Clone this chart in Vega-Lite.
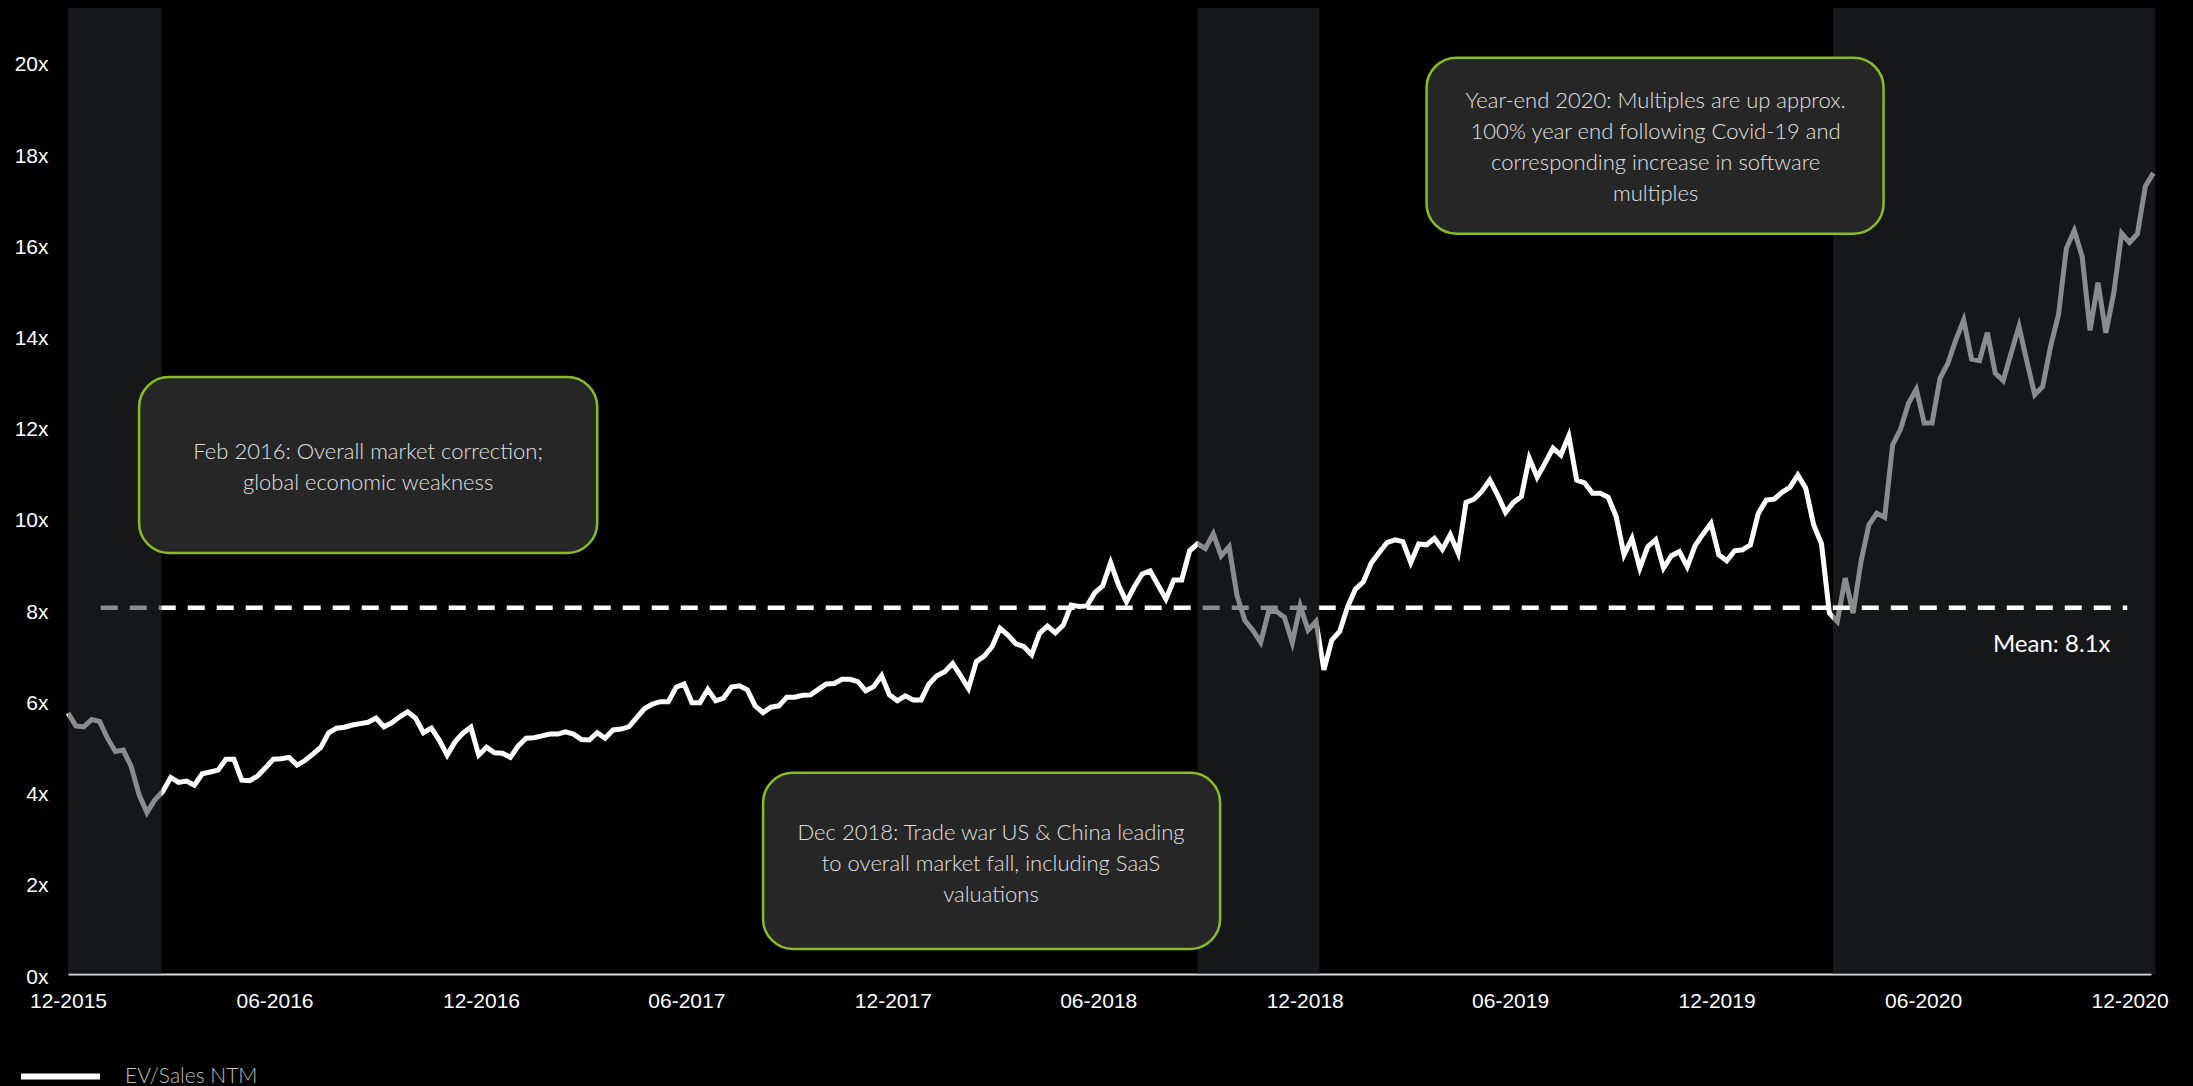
{
  "$schema": "https://vega.github.io/schema/vega-lite/v6.json",
  "width": 2083,
  "height": 966,
  "autosize": {"type": "none"},
  "padding": {"left": 68, "top": 8, "right": 42, "bottom": 112},
  "background": "#000000",
  "config": {"view": {"stroke": null}, "font": "Liberation Sans"},
  "datasets": {
    "ev": [
      {"date": "2015-12-01", "value": 5.72}, {"date": "2015-12-08", "value": 5.44}, {"date": "2015-12-15", "value": 5.42}, {"date": "2015-12-22", "value": 5.58}, {"date": "2015-12-29", "value": 5.54},
      {"date": "2016-01-05", "value": 5.17}, {"date": "2016-01-12", "value": 4.88}, {"date": "2016-01-19", "value": 4.91}, {"date": "2016-01-26", "value": 4.55},
      {"date": "2016-02-02", "value": 3.93}, {"date": "2016-02-09", "value": 3.54}, {"date": "2016-02-16", "value": 3.82}, {"date": "2016-02-23", "value": 4.00},
      {"date": "2016-03-01", "value": 4.31}, {"date": "2016-03-08", "value": 4.20}, {"date": "2016-03-15", "value": 4.23}, {"date": "2016-03-22", "value": 4.14}, {"date": "2016-03-29", "value": 4.39},
      {"date": "2016-04-05", "value": 4.43}, {"date": "2016-04-12", "value": 4.47}, {"date": "2016-04-19", "value": 4.71}, {"date": "2016-04-26", "value": 4.71},
      {"date": "2016-05-03", "value": 4.25}, {"date": "2016-05-10", "value": 4.24}, {"date": "2016-05-17", "value": 4.34}, {"date": "2016-05-24", "value": 4.52}, {"date": "2016-05-31", "value": 4.71},
      {"date": "2016-06-07", "value": 4.72}, {"date": "2016-06-14", "value": 4.75}, {"date": "2016-06-21", "value": 4.58}, {"date": "2016-06-28", "value": 4.68},
      {"date": "2016-07-05", "value": 4.82}, {"date": "2016-07-12", "value": 4.97}, {"date": "2016-07-19", "value": 5.29}, {"date": "2016-07-26", "value": 5.39},
      {"date": "2016-08-02", "value": 5.41}, {"date": "2016-08-09", "value": 5.46}, {"date": "2016-08-16", "value": 5.49}, {"date": "2016-08-23", "value": 5.52}, {"date": "2016-08-30", "value": 5.61},
      {"date": "2016-09-06", "value": 5.42}, {"date": "2016-09-13", "value": 5.51}, {"date": "2016-09-20", "value": 5.64}, {"date": "2016-09-27", "value": 5.75},
      {"date": "2016-10-04", "value": 5.61}, {"date": "2016-10-11", "value": 5.29}, {"date": "2016-10-18", "value": 5.39}, {"date": "2016-10-25", "value": 5.13},
      {"date": "2016-11-01", "value": 4.80}, {"date": "2016-11-08", "value": 5.09}, {"date": "2016-11-15", "value": 5.28}, {"date": "2016-11-22", "value": 5.41}, {"date": "2016-11-29", "value": 4.80},
      {"date": "2016-12-06", "value": 4.97}, {"date": "2016-12-13", "value": 4.85}, {"date": "2016-12-20", "value": 4.84}, {"date": "2016-12-27", "value": 4.75},
      {"date": "2017-01-03", "value": 5.00}, {"date": "2017-01-10", "value": 5.17}, {"date": "2017-01-17", "value": 5.18}, {"date": "2017-01-24", "value": 5.22}, {"date": "2017-01-31", "value": 5.26},
      {"date": "2017-02-07", "value": 5.26}, {"date": "2017-02-14", "value": 5.31}, {"date": "2017-02-21", "value": 5.26}, {"date": "2017-02-28", "value": 5.14},
      {"date": "2017-03-07", "value": 5.13}, {"date": "2017-03-14", "value": 5.29}, {"date": "2017-03-21", "value": 5.17}, {"date": "2017-03-28", "value": 5.35},
      {"date": "2017-04-04", "value": 5.37}, {"date": "2017-04-11", "value": 5.42}, {"date": "2017-04-18", "value": 5.62}, {"date": "2017-04-25", "value": 5.82},
      {"date": "2017-05-02", "value": 5.92}, {"date": "2017-05-09", "value": 5.97}, {"date": "2017-05-16", "value": 5.97}, {"date": "2017-05-23", "value": 6.29}, {"date": "2017-05-30", "value": 6.36},
      {"date": "2017-06-06", "value": 5.95}, {"date": "2017-06-13", "value": 5.95}, {"date": "2017-06-20", "value": 6.24}, {"date": "2017-06-27", "value": 5.99},
      {"date": "2017-07-04", "value": 6.05}, {"date": "2017-07-11", "value": 6.29}, {"date": "2017-07-18", "value": 6.32}, {"date": "2017-07-25", "value": 6.23},
      {"date": "2017-08-01", "value": 5.88}, {"date": "2017-08-08", "value": 5.73}, {"date": "2017-08-15", "value": 5.85}, {"date": "2017-08-22", "value": 5.88}, {"date": "2017-08-29", "value": 6.07},
      {"date": "2017-09-05", "value": 6.07}, {"date": "2017-09-12", "value": 6.11}, {"date": "2017-09-19", "value": 6.12}, {"date": "2017-09-26", "value": 6.24},
      {"date": "2017-10-03", "value": 6.36}, {"date": "2017-10-10", "value": 6.37}, {"date": "2017-10-17", "value": 6.46}, {"date": "2017-10-24", "value": 6.46}, {"date": "2017-10-31", "value": 6.41},
      {"date": "2017-11-07", "value": 6.21}, {"date": "2017-11-14", "value": 6.30}, {"date": "2017-11-21", "value": 6.54}, {"date": "2017-11-28", "value": 6.12},
      {"date": "2017-12-05", "value": 5.99}, {"date": "2017-12-12", "value": 6.10}, {"date": "2017-12-19", "value": 6.01}, {"date": "2017-12-26", "value": 6.01},
      {"date": "2018-01-02", "value": 6.36}, {"date": "2018-01-09", "value": 6.54}, {"date": "2018-01-16", "value": 6.63}, {"date": "2018-01-23", "value": 6.81}, {"date": "2018-01-30", "value": 6.54},
      {"date": "2018-02-06", "value": 6.26}, {"date": "2018-02-13", "value": 6.85}, {"date": "2018-02-20", "value": 6.97}, {"date": "2018-02-27", "value": 7.18},
      {"date": "2018-03-06", "value": 7.58}, {"date": "2018-03-13", "value": 7.43}, {"date": "2018-03-20", "value": 7.24}, {"date": "2018-03-27", "value": 7.18},
      {"date": "2018-04-03", "value": 7.00}, {"date": "2018-04-10", "value": 7.47}, {"date": "2018-04-17", "value": 7.63}, {"date": "2018-04-24", "value": 7.48},
      {"date": "2018-05-01", "value": 7.65}, {"date": "2018-05-08", "value": 8.09}, {"date": "2018-05-15", "value": 8.06}, {"date": "2018-05-22", "value": 8.07}, {"date": "2018-05-29", "value": 8.36},
      {"date": "2018-06-05", "value": 8.51}, {"date": "2018-06-12", "value": 9.02}, {"date": "2018-06-19", "value": 8.53}, {"date": "2018-06-26", "value": 8.16},
      {"date": "2018-07-03", "value": 8.49}, {"date": "2018-07-10", "value": 8.77}, {"date": "2018-07-17", "value": 8.84}, {"date": "2018-07-24", "value": 8.53}, {"date": "2018-07-31", "value": 8.22},
      {"date": "2018-08-07", "value": 8.64}, {"date": "2018-08-14", "value": 8.64}, {"date": "2018-08-21", "value": 9.28}, {"date": "2018-08-28", "value": 9.43},
      {"date": "2018-09-04", "value": 9.33}, {"date": "2018-09-11", "value": 9.65}, {"date": "2018-09-18", "value": 9.17}, {"date": "2018-09-25", "value": 9.37},
      {"date": "2018-10-02", "value": 8.30}, {"date": "2018-10-09", "value": 7.75}, {"date": "2018-10-16", "value": 7.54}, {"date": "2018-10-23", "value": 7.27}, {"date": "2018-10-30", "value": 7.95},
      {"date": "2018-11-06", "value": 7.95}, {"date": "2018-11-13", "value": 7.82}, {"date": "2018-11-20", "value": 7.27}, {"date": "2018-11-27", "value": 8.07},
      {"date": "2018-12-04", "value": 7.54}, {"date": "2018-12-11", "value": 7.73}, {"date": "2018-12-18", "value": 6.67}, {"date": "2018-12-25", "value": 7.32},
      {"date": "2019-01-01", "value": 7.51}, {"date": "2019-01-08", "value": 8.05}, {"date": "2019-01-15", "value": 8.44}, {"date": "2019-01-22", "value": 8.60}, {"date": "2019-01-29", "value": 9.01},
      {"date": "2019-02-05", "value": 9.24}, {"date": "2019-02-12", "value": 9.46}, {"date": "2019-02-19", "value": 9.52}, {"date": "2019-02-26", "value": 9.48},
      {"date": "2019-03-05", "value": 9.02}, {"date": "2019-03-12", "value": 9.43}, {"date": "2019-03-19", "value": 9.41}, {"date": "2019-03-26", "value": 9.55},
      {"date": "2019-04-02", "value": 9.31}, {"date": "2019-04-09", "value": 9.63}, {"date": "2019-04-16", "value": 9.23}, {"date": "2019-04-23", "value": 10.34}, {"date": "2019-04-30", "value": 10.41},
      {"date": "2019-05-07", "value": 10.58}, {"date": "2019-05-14", "value": 10.83}, {"date": "2019-05-21", "value": 10.50}, {"date": "2019-05-28", "value": 10.12},
      {"date": "2019-06-04", "value": 10.34}, {"date": "2019-06-11", "value": 10.47}, {"date": "2019-06-18", "value": 11.31}, {"date": "2019-06-25", "value": 10.89},
      {"date": "2019-07-02", "value": 11.20}, {"date": "2019-07-09", "value": 11.53}, {"date": "2019-07-16", "value": 11.38}, {"date": "2019-07-23", "value": 11.80}, {"date": "2019-07-30", "value": 10.83},
      {"date": "2019-08-06", "value": 10.77}, {"date": "2019-08-13", "value": 10.54}, {"date": "2019-08-20", "value": 10.54}, {"date": "2019-08-27", "value": 10.45},
      {"date": "2019-09-03", "value": 10.03}, {"date": "2019-09-10", "value": 9.19}, {"date": "2019-09-17", "value": 9.55}, {"date": "2019-09-24", "value": 8.90},
      {"date": "2019-10-01", "value": 9.37}, {"date": "2019-10-08", "value": 9.52}, {"date": "2019-10-15", "value": 8.90}, {"date": "2019-10-22", "value": 9.17}, {"date": "2019-10-29", "value": 9.26},
      {"date": "2019-11-05", "value": 8.93}, {"date": "2019-11-12", "value": 9.39}, {"date": "2019-11-19", "value": 9.65}, {"date": "2019-11-26", "value": 9.88},
      {"date": "2019-12-03", "value": 9.19}, {"date": "2019-12-10", "value": 9.06}, {"date": "2019-12-17", "value": 9.28}, {"date": "2019-12-24", "value": 9.30}, {"date": "2019-12-31", "value": 9.41},
      {"date": "2020-01-07", "value": 10.10}, {"date": "2020-01-14", "value": 10.39}, {"date": "2020-01-21", "value": 10.41}, {"date": "2020-01-28", "value": 10.56},
      {"date": "2020-02-04", "value": 10.67}, {"date": "2020-02-11", "value": 10.94}, {"date": "2020-02-18", "value": 10.65}, {"date": "2020-02-25", "value": 9.85},
      {"date": "2020-03-03", "value": 9.43}, {"date": "2020-03-10", "value": 7.91}, {"date": "2020-03-17", "value": 7.73}, {"date": "2020-03-24", "value": 8.68}, {"date": "2020-03-31", "value": 7.91},
      {"date": "2020-04-07", "value": 9.04}, {"date": "2020-04-14", "value": 9.85}, {"date": "2020-04-21", "value": 10.10}, {"date": "2020-04-28", "value": 10.01},
      {"date": "2020-05-05", "value": 11.60}, {"date": "2020-05-12", "value": 11.94}, {"date": "2020-05-19", "value": 12.51}, {"date": "2020-05-26", "value": 12.82},
      {"date": "2020-06-02", "value": 12.08}, {"date": "2020-06-09", "value": 12.08}, {"date": "2020-06-16", "value": 13.06}, {"date": "2020-06-23", "value": 13.39}, {"date": "2020-06-30", "value": 13.90},
      {"date": "2020-07-07", "value": 14.34}, {"date": "2020-07-14", "value": 13.48}, {"date": "2020-07-21", "value": 13.45}, {"date": "2020-07-28", "value": 14.06},
      {"date": "2020-08-04", "value": 13.17}, {"date": "2020-08-11", "value": 13.01}, {"date": "2020-08-18", "value": 13.61}, {"date": "2020-08-25", "value": 14.20},
      {"date": "2020-09-01", "value": 13.43}, {"date": "2020-09-08", "value": 12.70}, {"date": "2020-09-15", "value": 12.88}, {"date": "2020-09-22", "value": 13.76}, {"date": "2020-09-29", "value": 14.45},
      {"date": "2020-10-06", "value": 15.91}, {"date": "2020-10-13", "value": 16.30}, {"date": "2020-10-20", "value": 15.73}, {"date": "2020-10-27", "value": 14.11},
      {"date": "2020-11-03", "value": 15.16}, {"date": "2020-11-10", "value": 14.06}, {"date": "2020-11-17", "value": 14.93}, {"date": "2020-11-24", "value": 16.24},
      {"date": "2020-12-01", "value": 16.04}, {"date": "2020-12-08", "value": 16.23}, {"date": "2020-12-15", "value": 17.27}, {"date": "2020-12-22", "value": 17.56}
    ],
    "bands": [
      {"start": "2015-12-01", "end": "2016-02-22"},
      {"start": "2018-08-28", "end": "2018-12-14"},
      {"start": "2020-03-13", "end": "2020-12-24"}
    ],
    "notes": [
      {"start": "2016-02-02", "end": "2017-03-14", "high": 13.09, "low": 9.23, "text_date": "2016-08-23", "text_value": 11.45, "text": ["Feb 2016: Overall market correction;", "global economic weakness"]},
      {"start": "2019-03-19", "end": "2020-04-27", "high": 20.09, "low": 16.23, "text_date": "2019-10-08", "text_value": 19.13, "text": ["Year-end 2020: Multiples are up approx.", "100% year end following Covid-19 and", "corresponding increase in software", "multiples"]},
      {"start": "2017-08-08", "end": "2018-09-17", "high": 4.41, "low": 0.55, "text_date": "2018-02-26", "text_value": 3.1, "text": ["Dec 2018: Trade war US & China leading", "to overall market fall, including SaaS", "valuations"]}
    ]
  },
  "layer": [
    {
      "data": {"name": "ev"},
      "mark": {"type": "line", "strokeWidth": 5},
      "encoding": {
        "x": {
          "field": "date", "type": "temporal",
          "scale": {"type": "utc", "domain": [{"year": 2015, "month": 12, "date": 1, "utc": true}, {"year": 2020, "month": 12, "date": 20, "utc": true}]},
          "axis": {
            "title": null, "grid": false, "ticks": false, "labelPadding": 16,
            "labelFontSize": 21, "labelColor": "#ffffff", "labelFont": "Liberation Sans",
            "domainColor": "#d9d9d9", "domainWidth": 2, "format": "%m-%Y",
            "labelFlush": false, "labelOverlap": false,
            "values": [
              {"year": 2015, "month": 12, "date": 1, "utc": true},
              {"year": 2016, "month": 6, "date": 1, "utc": true},
              {"year": 2016, "month": 12, "date": 1, "utc": true},
              {"year": 2017, "month": 6, "date": 1, "utc": true},
              {"year": 2017, "month": 12, "date": 1, "utc": true},
              {"year": 2018, "month": 6, "date": 1, "utc": true},
              {"year": 2018, "month": 12, "date": 1, "utc": true},
              {"year": 2019, "month": 6, "date": 1, "utc": true},
              {"year": 2019, "month": 12, "date": 1, "utc": true},
              {"year": 2020, "month": 6, "date": 1, "utc": true},
              {"year": 2020, "month": 12, "date": 1, "utc": true}
            ]
          }
        },
        "y": {
          "field": "value", "type": "quantitative",
          "scale": {"domain": [0, 21.18], "nice": false, "zero": true},
          "axis": {
            "title": null, "grid": false, "ticks": false, "domain": false,
            "labelPadding": 20, "labelFontSize": 21, "labelColor": "#ffffff", "labelFont": "Liberation Sans",
            "values": [0, 2, 4, 6, 8, 10, 12, 14, 16, 18, 20],
            "labelExpr": "datum.value + 'x'", "labelOffset": 3
          }
        },
        "color": {
          "datum": "EV/Sales NTM",
          "scale": {"range": ["#ffffff"]},
          "legend": {
            "title": null, "orient": "none", "legendX": -50, "legendY": 1026,
            "symbolType": "stroke", "symbolSize": 6241, "symbolStrokeWidth": 6,
            "labelFont": "Lato", "labelFontSize": 21, "labelFontWeight": 300, "labelColor": "#bfbfbf", "labelOffset": 22, "padding": 0
          }
        }
      }
    },
    {
      "data": {"values": [{"start": "2015-12-30", "end": "2020-03-13", "mean": 8.03}]},
      "mark": {"type": "rule", "color": "#ffffff", "strokeWidth": 4.5, "strokeDash": [17, 12]},
      "encoding": {
        "x": {"field": "start", "type": "temporal"},
        "x2": {"field": "end"},
        "y": {"field": "mean", "type": "quantitative"}
      }
    },
    {
      "data": {"name": "bands"},
      "mark": {"type": "rect", "color": "#292b2e", "opacity": 0.54},
      "encoding": {
        "x": {"field": "start", "type": "temporal"},
        "x2": {"field": "end"}
      }
    },
    {
      "data": {"values": [{"start": "2020-03-13", "end": "2020-11-29", "mean": 8.03}]},
      "mark": {"type": "rule", "color": "#ffffff", "strokeWidth": 4.5, "strokeDash": [17, 12]},
      "encoding": {
        "x": {"field": "start", "type": "temporal"},
        "x2": {"field": "end"},
        "y": {"field": "mean", "type": "quantitative"}
      }
    },
    {
      "data": {"name": "notes"},
      "mark": {"type": "rect", "cornerRadius": 30, "fill": "#262626", "stroke": "#86bc25", "strokeWidth": 2.5},
      "encoding": {
        "x": {"field": "start", "type": "temporal"},
        "x2": {"field": "end"},
        "y": {"field": "high", "type": "quantitative"},
        "y2": {"field": "low"}
      }
    },
    {
      "data": {"name": "notes"},
      "mark": {"type": "text", "font": "Lato", "fontSize": 22, "fontWeight": 300, "color": "#e0e0e0", "lineHeight": 31, "align": "center", "baseline": "middle"},
      "encoding": {
        "x": {"field": "text_date", "type": "temporal"},
        "y": {"field": "text_value", "type": "quantitative"},
        "text": {"field": "text"}
      }
    },
    {
      "data": {"values": [{"date": "2020-09-23", "value": 7.21, "label": "Mean: 8.1x"}]},
      "mark": {"type": "text", "font": "Lato", "fontSize": 24, "color": "#ffffff", "align": "center", "baseline": "middle"},
      "encoding": {
        "x": {"field": "date", "type": "temporal"},
        "y": {"field": "value", "type": "quantitative"},
        "text": {"field": "label"}
      }
    }
  ]
}
